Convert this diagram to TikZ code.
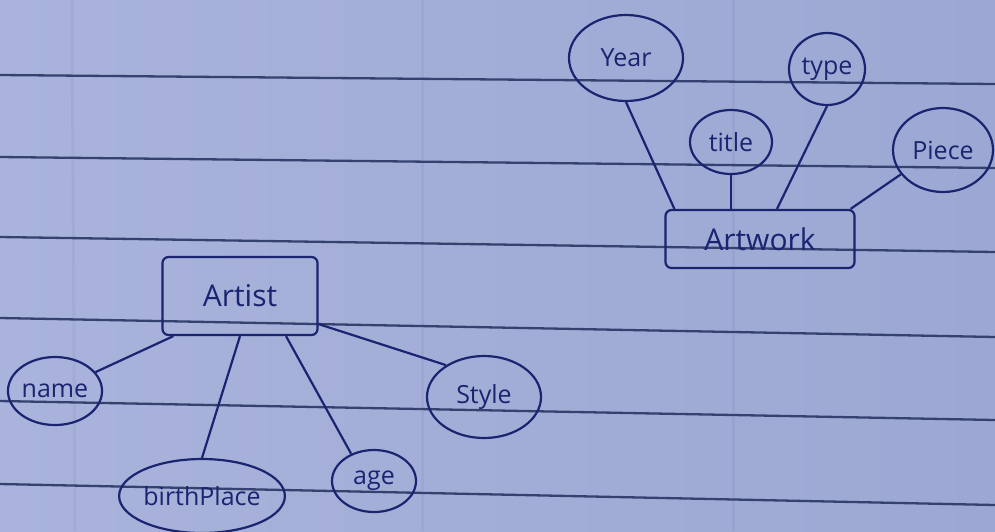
\documentclass[tikz,border=0pt]{standalone}
\usepackage{fontspec}
\setmainfont{Open Sans}
\usetikzlibrary{shapes.geometric,calc}
\definecolor{paper}{HTML}{9CA8D3}
\definecolor{paperlight}{HTML}{A9B3DB}
\definecolor{ink}{HTML}{1A2470}
\definecolor{rulecol}{HTML}{35416F}
\tikzset{
  attr/.style={ellipse, draw=ink, line width=2.2pt, inner sep=0pt, text=ink,
    font=\fontsize{25}{29}\selectfont},
  entity/.style={rectangle, draw=ink, line width=2.2pt, rounded corners=6pt,
    text=ink, font=\fontsize{30}{34}\selectfont},
  link/.style={draw=ink, line width=2.2pt},
  paperline/.style={draw=rulecol, line width=2.3pt},
  margin/.style={draw=rulecol, line width=3pt, opacity=0.06}
}
\begin{document}
\begin{tikzpicture}[x=1pt,y=-1pt]
  % paper
  \shade[left color=paperlight, right color=paper] (0,0) rectangle (995,531);
  \useasboundingbox (0,0) rectangle (995,531);
  \draw[margin] (72,0) -- (75,531);
  \draw[margin] (422,0) -- (422,531);
  \draw[margin] (733,0) -- (733,531);
  \draw[paperline] (0,75) -- (995,84);
  \draw[paperline] (0,157) -- (995,168);
  \draw[paperline] (0,237) -- (995,252);
  \draw[paperline] (0,318) -- (995,337);
  \draw[paperline] (0,401) -- (995,420);
  \draw[paperline] (0,484) -- (995,505);

  % Artwork entity and attributes
  \node[entity, minimum width=189pt, minimum height=58pt] (artwork) at (760,239) {Artwork};
  \node[attr, minimum width=114pt, minimum height=86pt] (year) at (626,58) {Year};
  \node[attr, minimum width=82pt, minimum height=64pt] (title) at (731,142) {title};
  \node[attr, minimum width=76pt, minimum height=72pt] (type) at (827,69) {type};
  \node[attr, minimum width=100pt, minimum height=84pt] (piece) at (943,150) {Piece};

  % Artist entity and attributes
  \node[entity, minimum width=155pt, minimum height=78pt] (artist) at (240,296) {Artist};
  \node[attr, minimum width=82pt, minimum height=68pt] (name) at (55,391) {name};
  \node[attr, minimum width=160pt, minimum height=74pt] (bp) at (202,496) {birthPlace};
  \node[attr, minimum width=84pt, minimum height=62pt] (age) at (374,481) {age};
  \node[attr, minimum width=114pt, minimum height=82pt] (style) at (484,397) {Style};

  % connectors
  \draw[link] (year.south) -- ($(artwork.north west)+(10,0)$);
  \draw[link] (title.south) -- (title.south |- artwork.north);
  \draw[link] (type.south) -- ($(artwork.north)+(17,0)$);
  \draw[link] (piece.210) -- ($(artwork.north east)+(-5,0)$);
  \draw[link] (name.25) -- ($(artist.south west)+(12,0)$);
  \draw[link] (bp.north) -- (artist.south);
  \draw[link] (age.130) -- ($(artist.south)+(46,0)$);
  \draw[link] (style.140) -- ($(artist.south east)+(0,-12)$);
\end{tikzpicture}
\end{document}
